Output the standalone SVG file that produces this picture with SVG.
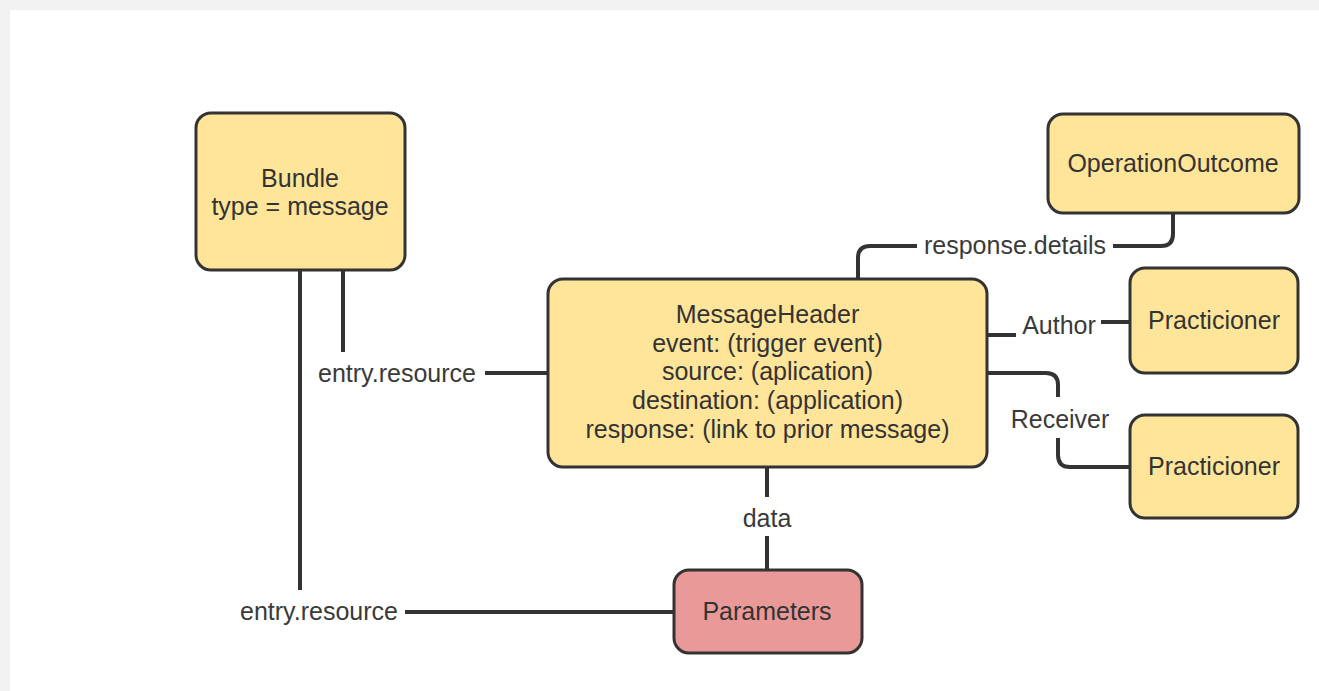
<svg xmlns="http://www.w3.org/2000/svg" width="1319" height="691" viewBox="0 0 1319 691">
<style>
.node{fill:#ffe599;stroke:#333;stroke-width:3}
.red{fill:#ea9999}
.t{font-family:"Liberation Sans",Arial,sans-serif;font-size:25px;fill:#333;text-anchor:middle}
.lbl{font-family:"Liberation Sans",Arial,sans-serif;font-size:25px;fill:#3a3a3a;text-anchor:middle}
.c{fill:none;stroke:#333;stroke-width:4}
</style>
<rect x="0" y="0" width="1319" height="691" fill="#f2f2f2"/>
<rect x="10" y="10" width="1309" height="681" fill="#ffffff"/>
<g id="connectors">
  <path class="c" d="M343,270 V352"/>
  <path class="c" d="M485,373 H548"/>
  <text class="lbl" x="397" y="382">entry.resource</text>
  <path class="c" d="M300,270 V590"/>
  <path class="c" d="M405,612 H674"/>
  <text class="lbl" x="319" y="620">entry.resource</text>
  <path class="c" d="M767,467 V497"/>
  <path class="c" d="M767,536 V570"/>
  <text class="lbl" x="767" y="527">data</text>
  <path class="c" d="M858,279 V258 Q858,246 870,246 H917"/>
  <path class="c" d="M1113,246 H1161 Q1173,246 1173,234 V213"/>
  <text class="lbl" x="1015" y="254">response.details</text>
  <path class="c" d="M987,335 H1016"/>
  <path class="c" d="M1101,322 H1130"/>
  <text class="lbl" x="1059" y="334">Author</text>
  <path class="c" d="M987,373 H1046 Q1058,373 1058,385 V397"/>
  <path class="c" d="M1058,438 V455 Q1058,467 1070,467 H1130"/>
  <text class="lbl" x="1060" y="428">Receiver</text>
</g>
<g id="bundle">
  <rect class="node" x="196" y="113" width="209" height="157" rx="15"/>
  <text class="t" x="300" y="187">Bundle</text>
  <text class="t" x="300" y="215">type = message</text>
</g>
<g id="operationoutcome">
  <rect class="node" x="1048" y="114" width="251" height="99" rx="15"/>
  <text class="t" x="1173" y="172">OperationOutcome</text>
</g>
<g id="messageheader">
  <rect class="node" x="548" y="279" width="439" height="188" rx="15"/>
  <text class="t" x="767.5" y="323">MessageHeader</text>
  <text class="t" x="767.5" y="352">event: (trigger event)</text>
  <text class="t" x="767.5" y="380">source: (aplication)</text>
  <text class="t" x="767.5" y="409">destination: (application)</text>
  <text class="t" x="767.5" y="438">response: (link to prior message)</text>
</g>
<g id="practicioner-author">
  <rect class="node" x="1130" y="268" width="168" height="105" rx="15"/>
  <text class="t" x="1214" y="329">Practicioner</text>
</g>
<g id="practicioner-receiver">
  <rect class="node" x="1130" y="415" width="168" height="103" rx="15"/>
  <text class="t" x="1214" y="475">Practicioner</text>
</g>
<g id="parameters">
  <rect class="node red" x="674" y="570" width="188" height="83" rx="15"/>
  <text class="t" x="767" y="620">Parameters</text>
</g>
</svg>
